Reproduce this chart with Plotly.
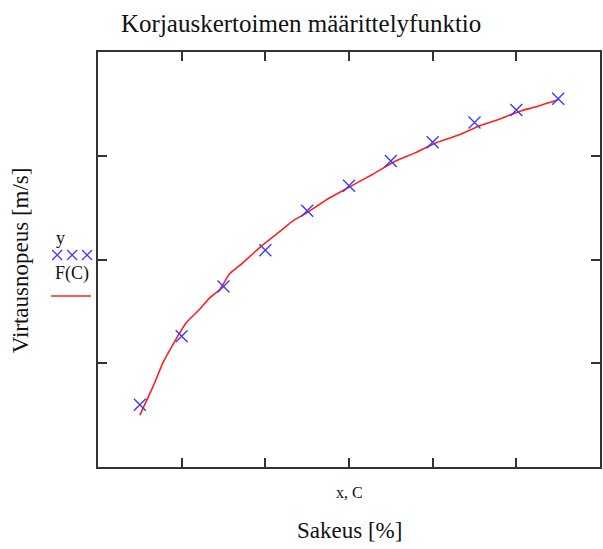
import plotly.graph_objects as go

# Data
C_points = [1, 2, 3, 4, 5, 6, 7, 8, 9, 10, 11]
y_points = [0.60, 1.26, 1.74, 2.09, 2.47, 2.71, 2.95, 3.13, 3.32, 3.44, 3.55]

C_curve = [1.0, 1.32, 1.56, 1.79, 2.11, 2.43, 2.67, 2.91, 3.14, 3.38, 3.94, 4.41,
           4.65, 5.03, 5.52, 6.06, 6.56, 7.07, 7.59, 8.06, 8.62, 9.07, 9.57,
           10.09, 10.45, 11.0]
F_curve = [0.50, 0.78, 1.01, 1.18, 1.39, 1.52, 1.63, 1.71, 1.86, 1.94, 2.14, 2.29,
           2.37, 2.46, 2.59, 2.71, 2.82, 2.94, 3.03, 3.12, 3.20, 3.28, 3.35,
           3.43, 3.47, 3.54]

x_ticks = [0, 2, 4, 6, 8, 10, 12]
y_ticks = [0, 1, 2, 3, 4]

W, H = 603, 549
L, R, T, B = 98, 602, 52, 467

def px(x):
    return (x - L) / (R - L)

def py(y):
    return (B - y) / (B - T)

SERIF = "Liberation Serif"
BLUE = "#3b3bff"
RED = "#ff2020"

fig = go.Figure()
fig.add_trace(go.Scatter(x=C_curve, y=F_curve, mode="lines",
                         line=dict(color=RED, width=1.6, shape="spline", smoothing=0.6),
                         showlegend=False))
fig.add_trace(go.Scatter(x=C_points, y=y_points, mode="markers",
                         marker=dict(symbol="x-thin-open", size=12, color=BLUE,
                                     line=dict(color=BLUE, width=1.4)),
                         showlegend=False))

axis_common = dict(showline=True, mirror="ticks", linecolor="#333333", linewidth=2,
                   ticks="inside", ticklen=9, tickwidth=2, tickcolor="#333333",
                   showticklabels=False, showgrid=False, zeroline=False)

fig.update_xaxes(range=[0, 12], tickvals=x_ticks, **axis_common)
fig.update_yaxes(range=[0, 4], tickvals=y_ticks, **axis_common)

annotations = [
    dict(text="Korjauskertoimen määrittelyfunktio", x=px(302), y=py(23),
         font=dict(size=25, color="#111111", family=SERIF)),
    dict(text="Virtausnopeus [m/s]", x=px(20), y=py(260), textangle=-90,
         font=dict(size=23, color="#111111", family=SERIF)),
    dict(text="x, C", x=px(350), y=py(492),
         font=dict(size=16, color="#111111", family=SERIF)),
    dict(text="Sakeus [%]", x=px(350), y=py(530),
         font=dict(size=23, color="#111111", family=SERIF)),
    dict(text="y", x=px(60), y=py(238),
         font=dict(size=18, color="#111111", family=SERIF)),
    dict(text="F(C)", x=px(72), y=py(273),
         font=dict(size=18, color="#111111", family=SERIF)),
]
for a in annotations:
    a.update(xref="paper", yref="paper", showarrow=False,
             xanchor="center", yanchor="middle")

shapes = []
for cx in [57, 72, 87]:
    cy = 255
    d = 5
    shapes.append(dict(type="line", xref="paper", yref="paper",
                       x0=px(cx - d), y0=py(cy - d), x1=px(cx + d), y1=py(cy + d),
                       line=dict(color=BLUE, width=1.3)))
    shapes.append(dict(type="line", xref="paper", yref="paper",
                       x0=px(cx - d), y0=py(cy + d), x1=px(cx + d), y1=py(cy - d),
                       line=dict(color=BLUE, width=1.3)))
shapes.append(dict(type="line", xref="paper", yref="paper",
                   x0=px(51), y0=py(296), x1=px(91), y1=py(296),
                   line=dict(color=RED, width=1.6)))

fig.update_layout(width=W, height=H, margin=dict(l=L, r=W - R, t=T, b=H - B),
                  plot_bgcolor="white", paper_bgcolor="white",
                  annotations=annotations, shapes=shapes, showlegend=False)

fig.write_html("out.html", config={"displayModeBar": False},
               post_script="document.body.style.margin='0';"
                           "document.body.style.overflow='hidden';")
